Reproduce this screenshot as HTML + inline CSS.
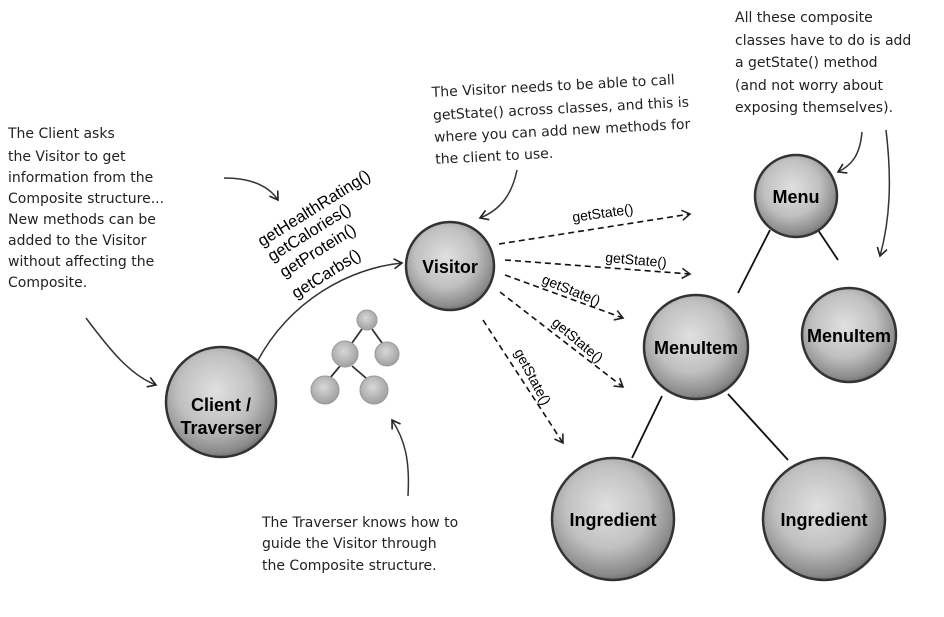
<!DOCTYPE html>
<html><head><meta charset="utf-8"><style>
html,body{margin:0;padding:0;background:#fff;width:944px;height:617px;overflow:hidden}
svg{display:block}
.h{font-family:"DejaVu Sans","Liberation Sans",sans-serif;font-size:14px;fill:#222}
.m{font-family:"Liberation Sans",sans-serif;font-size:14px;fill:#000}
.m2{font-family:"Liberation Sans",sans-serif;font-size:16.5px;fill:#000}
.n{font-family:"Liberation Sans",sans-serif;font-weight:bold;fill:#000;text-anchor:middle;font-size:18px}
</style></head><body>
<svg width="944" height="617" viewBox="0 0 944 617" xmlns="http://www.w3.org/2000/svg">
<defs>
<radialGradient id="g" cx="45%" cy="40%" r="62%">
<stop offset="0" stop-color="#e0e0e0"/><stop offset="0.55" stop-color="#c0c0c0"/><stop offset="0.9" stop-color="#8a8a8a"/><stop offset="1" stop-color="#6a6a6a"/>
</radialGradient>
<radialGradient id="g2" cx="45%" cy="40%" r="60%">
<stop offset="0" stop-color="#d8d8d8"/><stop offset="1" stop-color="#a0a0a0"/>
</radialGradient>
<marker id="a" markerWidth="12" markerHeight="12" refX="10" refY="6" orient="auto" markerUnits="userSpaceOnUse">
<path d="M2,1 L10,6 L2,11" fill="none" stroke="#222" stroke-width="1.6"/>
</marker>
</defs>
<g stroke="#111" stroke-width="1.8" fill="none">
<line x1="770" y1="230" x2="738" y2="293"/>
<line x1="818" y1="230" x2="838" y2="260"/>
<line x1="662" y1="396" x2="632" y2="458"/>
<line x1="728" y1="394" x2="788" y2="460"/>
</g>
<g stroke="#111" stroke-width="1.6" fill="none" stroke-dasharray="6,4" marker-end="url(#a)">
<line x1="499" y1="244" x2="690" y2="214"/>
<line x1="505" y1="260" x2="690" y2="274"/>
<line x1="505" y1="275" x2="623" y2="318"/>
<line x1="500" y1="292" x2="623" y2="387"/>
<line x1="483" y1="320" x2="563" y2="443"/>
</g>
<g class="m">
<text transform="translate(573,222) rotate(-8)">getState()</text>
<text transform="translate(605,262) rotate(5)">getState()</text>
<text transform="translate(541,283) rotate(22)">getState()</text>
<text transform="translate(551,324) rotate(40)">getState()</text>
<text transform="translate(514,352) rotate(62)">getState()</text>
</g>
<g class="m2">
<text transform="translate(262,247) rotate(-32)">getHealthRating()</text>
<text transform="translate(272,262) rotate(-32)">getCalories()</text>
<text transform="translate(284,278) rotate(-32)">getProtein()</text>
<text transform="translate(296,299) rotate(-32)">getCarbs()</text>
</g>
<g stroke="#333" stroke-width="1.5" fill="none" marker-end="url(#a)">
<path d="M257,362 C290,300 350,268 402,263"/>
<path d="M224,178 C250,178 268,185 278,200"/>
<path d="M86,318 C110,350 130,375 156,385"/>
<path d="M517,170 C512,195 500,210 480,218"/>
<path d="M862,132 C860,155 852,165 838,172"/>
<path d="M886,130 C892,180 890,220 880,256"/>
<path d="M408,496 C410,460 405,440 392,420"/>
</g>
<g stroke="#333" stroke-width="1.8">
<line x1="362" y1="329" x2="352" y2="343"/><line x1="372" y1="329" x2="382" y2="343"/>
<line x1="340" y1="366" x2="330" y2="378"/><line x1="352" y1="366" x2="366" y2="378"/>
</g>
<g fill="url(#g2)" stroke="#999" stroke-width="1">
<circle cx="367" cy="320" r="10"/><circle cx="345" cy="354" r="13"/><circle cx="387" cy="354" r="12"/>
<circle cx="325" cy="390" r="14"/><circle cx="374" cy="390" r="14"/>
</g>
<g fill="url(#g)" stroke="#333" stroke-width="2.5">
<circle cx="221" cy="402" r="55"/>
<circle cx="450" cy="266" r="44"/>
<circle cx="796" cy="196" r="41"/>
<circle cx="849" cy="335" r="47"/>
<circle cx="696" cy="347" r="52"/>
<circle cx="613" cy="519" r="61"/>
<circle cx="824" cy="519" r="61"/>
</g>
<g class="n">
<text x="221" y="411">Client /</text>
<text x="221" y="434">Traverser</text>
<text x="450" y="273">Visitor</text>
<text x="796" y="203">Menu</text>
<text x="849" y="342">MenuItem</text>
<text x="696" y="354">MenuItem</text>
<text x="613" y="526">Ingredient</text>
<text x="824" y="526">Ingredient</text>
</g>
<g class="h">
<text x="8" y="138">The Client asks</text>
<text x="8" y="161">the Visitor to get</text>
<text x="8" y="182">information from the</text>
<text x="8" y="203">Composite structure...</text>
<text x="8" y="224">New methods can be</text>
<text x="8" y="245">added to the Visitor</text>
<text x="8" y="266">without affecting the</text>
<text x="8" y="287">Composite.</text>
<g transform="rotate(-3 432 97)">
<text x="432" y="97">The Visitor needs to be able to call</text>
<text x="432" y="120">getState() across classes, and this is</text>
<text x="432" y="142">where you can add new methods for</text>
<text x="432" y="164">the client to use.</text>
</g>
<text x="735" y="22">All these composite</text>
<text x="735" y="45">classes have to do is add</text>
<text x="735" y="67">a getState() method</text>
<text x="735" y="90">(and not worry about</text>
<text x="735" y="112">exposing themselves).</text>
<text x="262" y="527">The Traverser knows how to</text>
<text x="262" y="548">guide the Visitor through</text>
<text x="262" y="570">the Composite structure.</text>
</g>
</svg>
</body></html>
